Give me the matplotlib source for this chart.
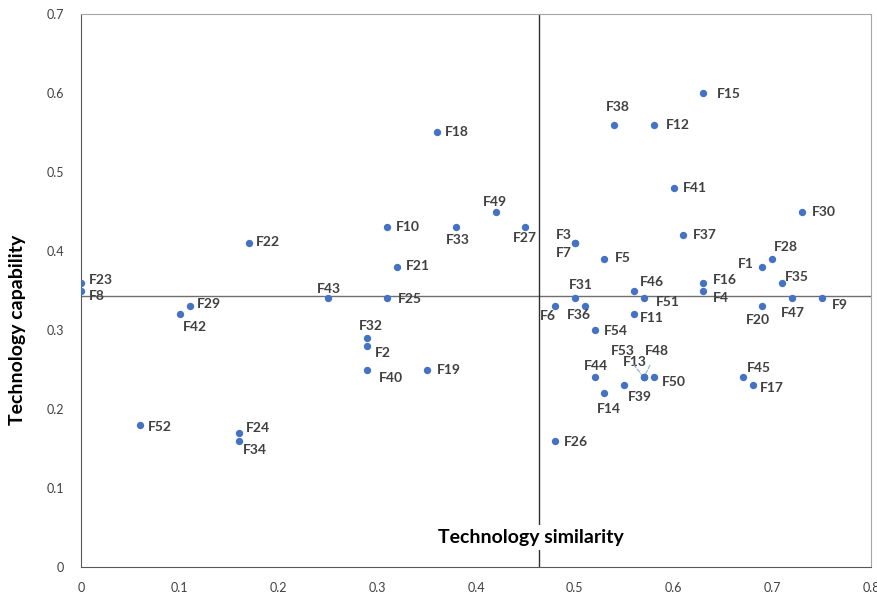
import matplotlib.pyplot as plt

# firm labels and their coordinates
firms = ['F1', 'F2', 'F3', 'F4', 'F5', 'F6', 'F7', 'F8', 'F9', 'F10',
         'F11', 'F12', 'F13', 'F14', 'F15', 'F16', 'F17', 'F18', 'F19', 'F20',
         'F21', 'F22', 'F23', 'F24', 'F25', 'F26', 'F27', 'F28', 'F29', 'F30',
         'F31', 'F32', 'F33', 'F34', 'F35', 'F36', 'F37', 'F38', 'F39', 'F40',
         'F41', 'F42', 'F43', 'F44', 'F45', 'F46', 'F47', 'F48', 'F49', 'F50',
         'F51', 'F52', 'F53', 'F54']
similarity = [0.69, 0.29, 0.50, 0.63, 0.53, 0.48, 0.50, 0.00, 0.75, 0.31,
              0.56, 0.58, 0.57, 0.53, 0.63, 0.63, 0.68, 0.36, 0.35, 0.69,
              0.32, 0.17, 0.00, 0.16, 0.31, 0.48, 0.45, 0.70, 0.11, 0.73,
              0.50, 0.29, 0.38, 0.16, 0.71, 0.51, 0.61, 0.54, 0.55, 0.29,
              0.60, 0.10, 0.25, 0.52, 0.67, 0.56, 0.72, 0.57, 0.42, 0.58,
              0.57, 0.06, 0.57, 0.52]
capability = [0.38, 0.28, 0.41, 0.35, 0.39, 0.33, 0.41, 0.35, 0.34, 0.43,
              0.32, 0.56, 0.24, 0.22, 0.60, 0.36, 0.23, 0.55, 0.25, 0.33,
              0.38, 0.41, 0.36, 0.17, 0.34, 0.16, 0.43, 0.39, 0.33, 0.45,
              0.34, 0.29, 0.43, 0.16, 0.36, 0.33, 0.42, 0.56, 0.23, 0.25,
              0.48, 0.32, 0.34, 0.24, 0.24, 0.35, 0.34, 0.24, 0.45, 0.24,
              0.34, 0.18, 0.24, 0.30]

# quadrant dividers (averages)
mean_similarity = 0.464
mean_capability = 0.343

# label placement: (dx, dy) in pixels, horizontal alignment
label_pos = {
    'F1': (-9, 3, 'right'), 'F2': (7, -7, 'left'), 'F3': (-11, 8, 'center'),
    'F4': (10, -7, 'left'), 'F5': (11, 1, 'left'), 'F6': (-7, -10, 'center'),
    'F7': (-11, -10, 'center'), 'F8': (8, -6, 'left'), 'F9': (10, -7, 'left'),
    'F10': (9, 0, 'left'), 'F11': (6, -4, 'left'), 'F12': (12, 0, 'left'),
    'F13': (-9, 15, 'center'), 'F14': (5, -16, 'center'), 'F15': (14, -1, 'left'),
    'F16': (10, 3, 'left'), 'F17': (7, -3, 'left'), 'F18': (8, 0, 'left'),
    'F19': (10, -1, 'left'), 'F20': (-4, -14, 'center'), 'F21': (9, 1, 'left'),
    'F22': (7, 1, 'left'), 'F23': (8, 3, 'left'), 'F24': (7, 5, 'left'),
    'F25': (11, -1, 'left'), 'F26': (9, -1, 'left'), 'F27': (-1, -11, 'center'),
    'F28': (2, 12, 'left'), 'F29': (7, 2, 'left'), 'F30': (10, -1, 'left'),
    'F31': (6, 13, 'center'), 'F32': (3, 12, 'center'), 'F33': (2, -13, 'center'),
    'F34': (4, -9, 'left'), 'F35': (3, 6, 'left'), 'F36': (-6, -9, 'center'),
    'F37': (9, 0, 'left'), 'F38': (4, 18, 'center'), 'F39': (4, -12, 'left'),
    'F40': (11, -8, 'left'), 'F41': (9, 0, 'left'), 'F42': (3, -13, 'left'),
    'F43': (1, 9, 'center'), 'F44': (1, 11, 'center'), 'F45': (4, 9, 'left'),
    'F46': (6, 9, 'left'), 'F47': (1, -15, 'center'), 'F48': (13, 26, 'center'),
    'F49': (-1, 10, 'center'), 'F50': (8, -5, 'left'), 'F51': (12, -4, 'left'),
    'F52': (8, -2, 'left'), 'F53': (-21, 26, 'center'), 'F54': (9, -1, 'left'),
}
leader = ['F53', 'F48']

plt.rcParams['font.family'] = ['Lato', 'DejaVu Sans']

fig = plt.figure(figsize=(8.77, 5.96), dpi=100)
ax = fig.add_axes([81 / 877, 29 / 596, 790 / 877, 553 / 596])

ax.scatter(similarity, capability, s=28, color='#4472C4', zorder=3, linewidths=0)

for name, x, y in zip(firms, similarity, capability):
    dx, dy, ha = label_pos[name]
    if name in leader:
        ax.annotate(name, (x, y), xytext=(dx, dy), textcoords='offset pixels',
                    ha=ha, va='center', fontsize=10, fontweight='bold', color='#404040',
                    arrowprops=dict(arrowstyle='-', linestyle='--', color='#8FAADC',
                                    lw=0.8, shrinkA=4, shrinkB=3))
    else:
        ax.annotate(name, (x, y), xytext=(dx, dy), textcoords='offset pixels',
                    ha=ha, va='center', fontsize=10, fontweight='bold', color='#404040')

ax.axhline(mean_capability, color='#6f6f6f', lw=1, zorder=1)
ax.axvline(mean_similarity, color='#303030', lw=1, zorder=1)

ax.set_xlim(0, 0.8)
ax.set_ylim(0, 0.7)
ax.set_xticks([0, 0.1, 0.2, 0.3, 0.4, 0.5, 0.6, 0.7, 0.8])
ax.set_xticklabels(['0', '0.1', '0.2', '0.3', '0.4', '0.5', '0.6', '0.7', '0.8'])
ax.set_yticks([0, 0.1, 0.2, 0.3, 0.4, 0.5, 0.6, 0.7])
ax.set_yticklabels(['0', '0.1', '0.2', '0.3', '0.4', '0.5', '0.6', '0.7'])
ax.tick_params(length=0, labelsize=9, colors='#404040')
ax.tick_params(axis='x', pad=11)
ax.tick_params(axis='y', pad=12)

for side in ['left', 'bottom']:
    ax.spines[side].set_color('#595959')
for side in ['top', 'right']:
    ax.spines[side].set_color('#a6a6a6')

ax.text(0.570, 0.054, 'Technology similarity', transform=ax.transAxes,
        ha='center', va='center', fontsize=14, fontweight='bold', color='black',
        bbox=dict(facecolor='white', edgecolor='none', pad=3), zorder=4)
fig.text(18 / 877, 1 - 330 / 596, 'Technology capability', rotation=90,
         ha='center', va='center', fontsize=14, fontweight='bold', color='black')

plt.savefig('out.png', dpi=100)
plt.close()
